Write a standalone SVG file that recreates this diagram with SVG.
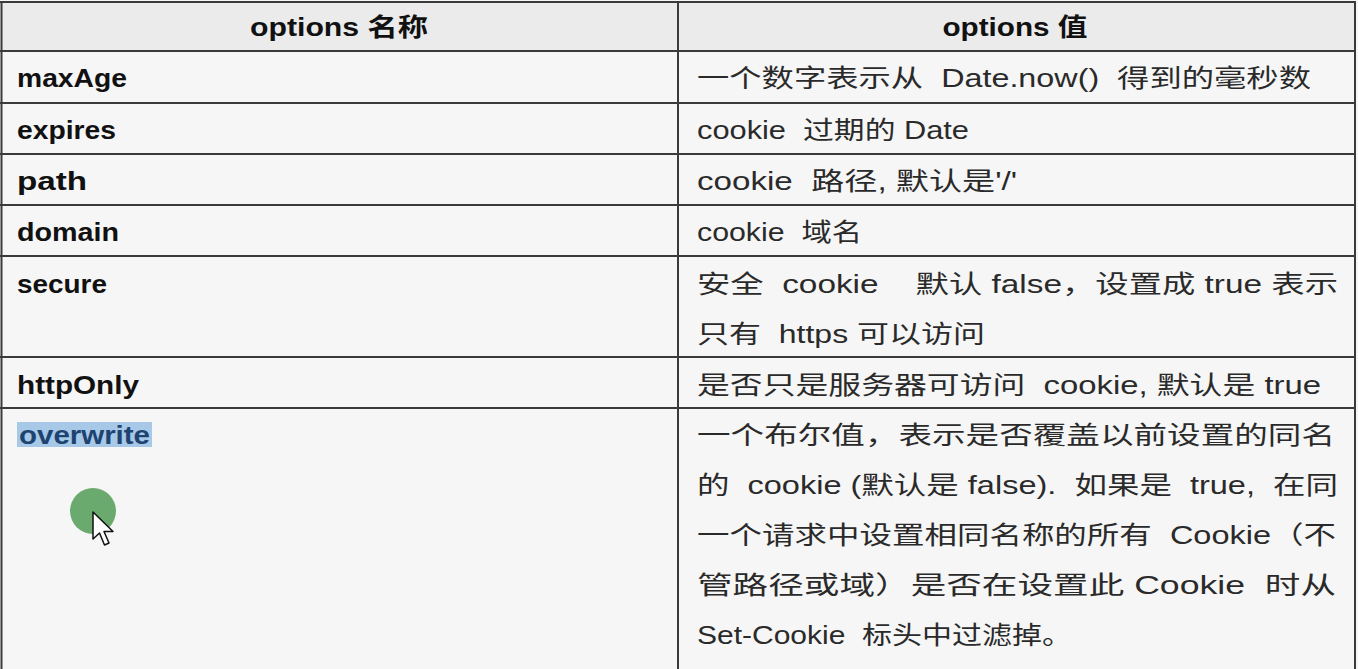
<svg xmlns="http://www.w3.org/2000/svg" width="1358" height="669" viewBox="0 0 1358 669">
<style>
.hd{font-family:"Liberation Sans","Noto Sans CJK SC",sans-serif;font-weight:bold;font-size:25px;fill:#111}
.k{font-family:"Liberation Sans","Noto Sans CJK SC",sans-serif;font-weight:bold;font-size:25px;fill:#111}
.v{font-family:"Liberation Sans","Noto Sans CJK SC",sans-serif;font-size:25px;fill:#2a2a2a;white-space:pre}
.ln{stroke:#3a3a3a;stroke-width:2;fill:none}
</style>
<rect x="0" y="0" width="1358" height="669" fill="#f6f6f6"/>
<rect x="1" y="2" width="1354" height="49" fill="#ebebeb"/>
<g id="grid">
<path class="ln" d="M0 2H1356M0 51H1356M0 103H1356M0 154H1356M0 205H1356M0 256H1356M0 357H1356M0 408H1356M1.5 2V669M678 2V669M1355 2V669"/>
</g>
<g id="header">
<text class="hd" x="339" y="36" text-anchor="middle" textLength="178" lengthAdjust="spacingAndGlyphs">options 名称</text>
<text class="hd" x="1015" y="36" text-anchor="middle" textLength="145" lengthAdjust="spacingAndGlyphs">options 值</text>
</g>
<g id="row-maxAge">
<text class="k" x="17" y="87" textLength="110" lengthAdjust="spacingAndGlyphs">maxAge</text>
<text class="v" x="697" y="87" textLength="614" lengthAdjust="spacingAndGlyphs" xml:space="preserve">一个数字表示从  Date.now()  得到的毫秒数</text>
</g>
<g id="row-expires">
<text class="k" x="17" y="139" textLength="99" lengthAdjust="spacingAndGlyphs">expires</text>
<text class="v" x="697" y="139" textLength="272" lengthAdjust="spacingAndGlyphs" xml:space="preserve">cookie  过期的 Date</text>
</g>
<g id="row-path">
<text class="k" x="17" y="190" textLength="70" lengthAdjust="spacingAndGlyphs">path</text>
<text class="v" x="697" y="190" textLength="320" lengthAdjust="spacingAndGlyphs" xml:space="preserve">cookie  路径, 默认是'/'</text>
</g>
<g id="row-domain">
<text class="k" x="17" y="241" textLength="102" lengthAdjust="spacingAndGlyphs">domain</text>
<text class="v" x="697" y="241" textLength="165" lengthAdjust="spacingAndGlyphs" xml:space="preserve">cookie  域名</text>
</g>
<g id="row-secure">
<text class="k" x="17" y="293" textLength="90" lengthAdjust="spacingAndGlyphs">secure</text>
<text class="v" x="697" y="293" textLength="641" lengthAdjust="spacingAndGlyphs" xml:space="preserve">安全  cookie    默认 false，设置成 true 表示</text>
<text class="v" x="697" y="343" textLength="288" lengthAdjust="spacingAndGlyphs" xml:space="preserve">只有  https 可以访问</text>
</g>
<g id="row-httpOnly">
<text class="k" x="17" y="394" textLength="122" lengthAdjust="spacingAndGlyphs">httpOnly</text>
<text class="v" x="697" y="394" textLength="624" lengthAdjust="spacingAndGlyphs" xml:space="preserve">是否只是服务器可访问  cookie, 默认是 true</text>
</g>
<g id="row-overwrite">
<rect x="17" y="422" width="135" height="25" fill="#a8c8e8"/>
<text class="k" x="19" y="444" textLength="131" lengthAdjust="spacingAndGlyphs" style="fill:#1d4470">overwrite</text>
<text class="v" x="697" y="444" textLength="638" lengthAdjust="spacingAndGlyphs" xml:space="preserve">一个布尔值，表示是否覆盖以前设置的同名</text>
<text class="v" x="697" y="494" textLength="641" lengthAdjust="spacingAndGlyphs" xml:space="preserve">的  cookie (默认是 false).  如果是  true,  在同</text>
<text class="v" x="697" y="544" textLength="639" lengthAdjust="spacingAndGlyphs" xml:space="preserve">一个请求中设置相同名称的所有  Cookie（不</text>
<text class="v" x="697" y="594" textLength="639" lengthAdjust="spacingAndGlyphs" xml:space="preserve">管路径或域）是否在设置此 Cookie  时从</text>
<text class="v" x="697" y="644" textLength="375" lengthAdjust="spacingAndGlyphs" xml:space="preserve">Set-Cookie  标头中过滤掉。</text>
</g>
<g id="cursor">
<circle cx="93" cy="511" r="23" fill="#62a566" opacity="0.95"/>
<path d="M93 512V539L99.5 533L104.5 545L109 543L104 531.5H113Z" fill="#ffffff" stroke="#111" stroke-width="1.5" stroke-linejoin="round"/>
</g>
</svg>
